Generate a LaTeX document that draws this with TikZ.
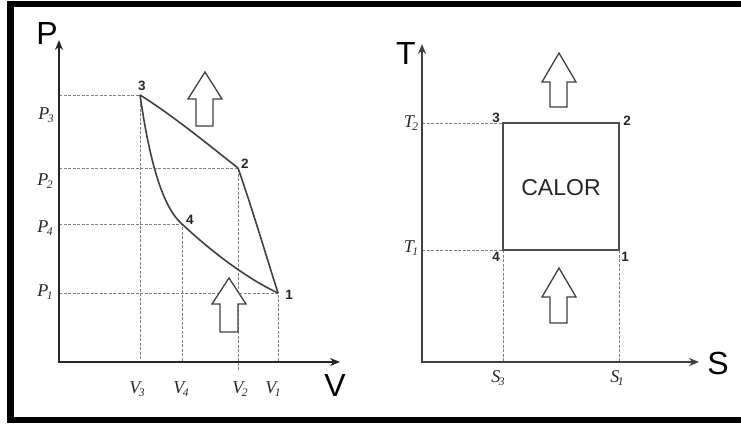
\documentclass[tikz,border=0pt]{standalone}
\usepackage{fontspec}
\setmainfont{Liberation Sans}
\newfontfamily\lserif{Liberation Serif}
\usetikzlibrary{arrows.meta}
\newcommand{\vlab}[2]{{\lserif\itshape\fontsize{18}{18}\selectfont #1\kern-1.5pt\raisebox{-3.5pt}{\fontsize{11.5}{11.5}\selectfont #2}}}
\begin{document}
\begin{tikzpicture}[x=1pt,y=-1pt,
  axis/.style={line width=1.8pt, black!85, {Stealth[length=10pt,width=8pt]}-{Stealth[length=10pt,width=8pt]}},
  thinaxis/.style={line width=1.3pt, black!75, {Stealth[length=10pt,width=8pt]}-{Stealth[length=10pt,width=8pt]}},
  guide/.style={black!50, line width=0.8pt, dash pattern=on 3pt off 1.5pt},
  curve/.style={line width=1.6pt, black!75},
  rectline/.style={line width=1.3pt, black!70},
  hollow/.style={line width=1.3pt, black!75, fill=white, line join=miter},
  big/.style={font=\fontsize{32}{32}\selectfont, inner sep=0pt},
  num/.style={font=\fontsize{13.5}{13.5}\selectfont\bfseries, text=black!85, inner sep=0pt},
  ticklab/.style={text=black!85, inner sep=0pt}]
\useasboundingbox (0,0) rectangle (741,423);
\draw[line width=6.5pt] (748,4) -- (10.5,4) -- (10.5,420) -- (748,420);

% ---------- P-V diagram ----------
\coordinate (O1) at (59,362);
\coordinate (Ptip) at (59,40);
\coordinate (Vtip) at (340,362);
\coordinate (p3) at (140,95);
\coordinate (p2) at (238,168);
\coordinate (p4) at (182,224);
\coordinate (p1) at (278,293);
\coordinate (v2low) at (238,370);

\draw[guide] (O1 |- p3) -- (p3) -- (p3 |- O1);
\draw[guide] (O1 |- p2) -- (p2) -- (v2low);
\draw[guide] (O1 |- p4) -- (p4) -- (p4 |- O1);
\draw[guide] (O1 |- p1) -- (p1) -- (p1 |- O1);

\draw[axis] (Ptip) -- (O1) -- (Vtip);

\draw[curve] (p3) .. controls (172,115) and (205,142) .. (p2);
\draw[curve] (p2) .. controls (252,208) and (265,252) .. (p1);
\draw[curve] (p3) .. controls (148,150) and (160,205) .. (p4)
             .. controls (215,255) and (250,280) .. (p1);

\draw[hollow] (205,72) -- (222,99) -- (213,99) -- (213,126) -- (196,126) -- (196,99) -- (188,99) -- cycle;
\draw[hollow] (229,278) -- (246,304) -- (238,304) -- (238,332) -- (220,332) -- (220,304) -- (212,304) -- cycle;

\node[big] (Plab) at (47,33) {P};
\node[big] (Vlab) at (335,385) {V};
\node[num] (n3) at (142,86) {3};
\node[num] (n2) at (245,164) {2};
\node[num] (n4) at (190,220) {4};
\node[num] (n1) at (289,295) {1};
\node[ticklab] (P3) at (46,115) {\vlab{P}{3}};
\node[ticklab] (P2) at (45,181) {\vlab{P}{2}};
\node[ticklab] (P4) at (45,228) {\vlab{P}{4}};
\node[ticklab] (P1) at (45,292) {\vlab{P}{1}};
\node[ticklab] (V3) at (137,389) {\vlab{V}{3}};
\node[ticklab] (V4) at (181,389) {\vlab{V}{4}};
\node[ticklab] (V2) at (240,389) {\vlab{V}{2}};
\node[ticklab] (V1) at (273,389) {\vlab{V}{1}};

% ---------- T-S diagram ----------
\coordinate (O2) at (422,362);
\coordinate (Ttip) at (422,44);
\coordinate (Stip) at (699,362);
\coordinate (c3) at (503,123);
\coordinate (c2) at (619,123);
\coordinate (c1) at (619,250);
\coordinate (c4) at (503,250);

\draw[guide] (O2 |- c3) -- (c3);
\draw[guide] (O2 |- c4) -- (c4) -- (c4 |- O2);
\draw[guide] (c1) -- (c1 |- O2);

\draw[thinaxis] (Ttip) -- (O2) -- (Stip);
\draw[rectline] (c3) -- (c2) -- (c1) -- (c4) -- cycle;

\draw[hollow] (559,53) -- (576,82) -- (567,82) -- (567,107) -- (550,107) -- (550,82) -- (542,82) -- cycle;
\draw[hollow] (559,268) -- (576,297) -- (567,297) -- (567,323) -- (550,323) -- (550,297) -- (542,297) -- cycle;

\node[big] (Tlab) at (406,53) {T};
\node[big] (Slab) at (718,363) {S};
\node[font=\fontsize{23}{23}\selectfont, text=black!85, inner sep=0pt] (calor) at (561,188) {CALOR};
\node[num] (m3) at (496,118) {3};
\node[num] (m2) at (627,121) {2};
\node[num] (m4) at (496,257) {4};
\node[num] (m1) at (625,257) {1};
\node[ticklab] (T2) at (411,123) {\vlab{T}{2}};
\node[ticklab] (T1) at (411,248) {\vlab{T}{1}};
\node[ticklab] (S3) at (498,378) {\vlab{S}{3}};
\node[ticklab] (S1) at (617,378) {\vlab{S}{1}};
\end{tikzpicture}
\end{document}
